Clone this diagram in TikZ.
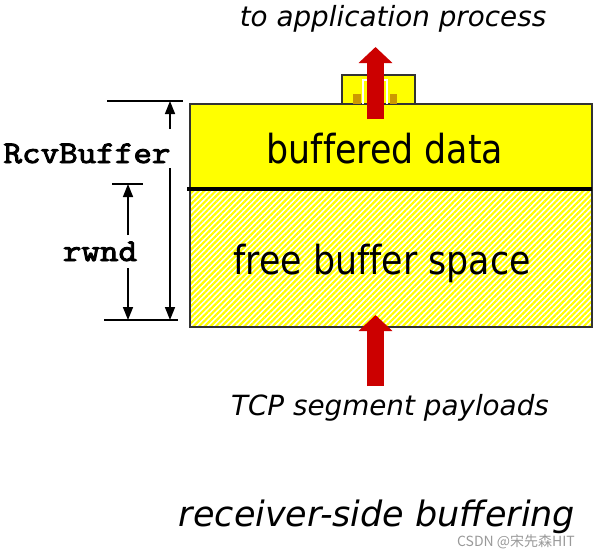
\documentclass[tikz,border=0pt]{standalone}
\usepackage{fontspec}
\setmainfont{DejaVu Sans}
\newfontfamily\boxfont[FakeStretch=0.87,Ligatures=NoCommon]{DejaVu Sans}
\newfontfamily\codefont[FakeBold=3,FakeStretch=1.14]{Latin Modern Mono}
\newfontfamily\cjkfont{Noto Sans CJK SC}
\usetikzlibrary{arrows.meta,patterns.meta}
\definecolor{bufyellow}{HTML}{FFFF00}
\definecolor{pktyellow}{HTML}{CC9900}
\definecolor{pipered}{HTML}{CC0000}
\definecolor{edgegray}{HTML}{333333}
\tikzset{
  bufbox/.style={draw=edgegray,line width=.6pt},
  boxtext/.style={font=\boxfont\fontsize{20}{24}\selectfont,anchor=base},
  captext/.style={font=\itshape\fontsize{13.9}{16}\selectfont,anchor=base},
  codetext/.style={font=\codefont\fontsize{15.8}{18}\selectfont,anchor=base},
  redpipe/.style={draw=pipered,line width=8.5pt,
    -{Triangle[width=16.5pt,length=8pt]}},
  dimtick/.style={draw=black,line width=1pt},
  dimarrow/.style={draw=black,line width=.75pt,
    -{Triangle[width=5pt,length=6.5pt]}},
}
\begin{document}
\begin{tikzpicture}[x=.5pt,y=-.5pt]
\useasboundingbox (0,0) rectangle (597,548);
% receive buffer
\fill[white] (190,189) rectangle (592,327);
\fill[pattern={Lines[angle=45,distance=2pt,line width=1.1pt]},pattern color=bufyellow]
  (190,189) rectangle (592,327);
\draw[bufbox] (190,189) rectangle (592,327);
\filldraw[bufbox,fill=bufyellow] (190,104) rectangle (592,189);
\draw[line width=1.6pt] (187,189) -- (592,189);
% data leaving the buffer
\filldraw[bufbox,fill=bufyellow] (342,75) rectangle (415,104);
\draw[white,line width=1pt] (363,104) -- (363,80) -- (387,80) -- (387,104);
\fill[pktyellow] (353,94) rectangle (361,104);
\fill[pktyellow] (390,94) rectangle (397,104);
\node[boxtext] (buffered) at (385,163) {buffered data};
\node[boxtext] (freespace) at (382,274) {free buffer space};
% arrows in and out
\coordinate (outbot) at (375.5,119);
\coordinate (outtip) at (375.5,47);
\draw[redpipe] (outbot) -- (outtip);
\coordinate (inbot) at (375.5,386);
\coordinate (intip) at (375.5,315);
\draw[redpipe] (inbot) -- (intip);
\node[captext] (toapp) at (393,26) {to application process};
\node[captext] (tcpseg) at (390,415) {TCP segment payloads};
% sizes
\coordinate (rcvtop) at (170,101);
\coordinate (rcvbot) at (170,320);
\coordinate (rwndtop) at (128,184);
\coordinate (rwndbot) at (128,320);
\draw[dimtick] (107,101) -- (183,101);
\draw[dimtick] (104,320) -- (178,320);
\draw[dimtick] (112,184) -- (143,184);
\node[codetext] (rcvlbl) at (87,163) {RcvBuffer};
\node[codetext] (rwndlbl) at (100,261) {rwnd};
\draw[dimarrow] (170,129) -- (rcvtop);
\draw[dimarrow] (170,168) -- (rcvbot);
\draw[dimarrow] (128,235) -- (rwndtop);
\draw[dimarrow] (128,268) -- (rwndbot);
\node[font=\itshape\fontsize{17.5}{21}\selectfont,anchor=base,inner sep=0pt] (caption) at (377,526) {receiver-side buffering};
\node[font=\cjkfont\fontsize{7}{8}\selectfont,text=gray,opacity=.8,anchor=base,inner sep=0pt] (mark) at (516,546) {CSDN @宋先森HIT};
\end{tikzpicture}
\end{document}
